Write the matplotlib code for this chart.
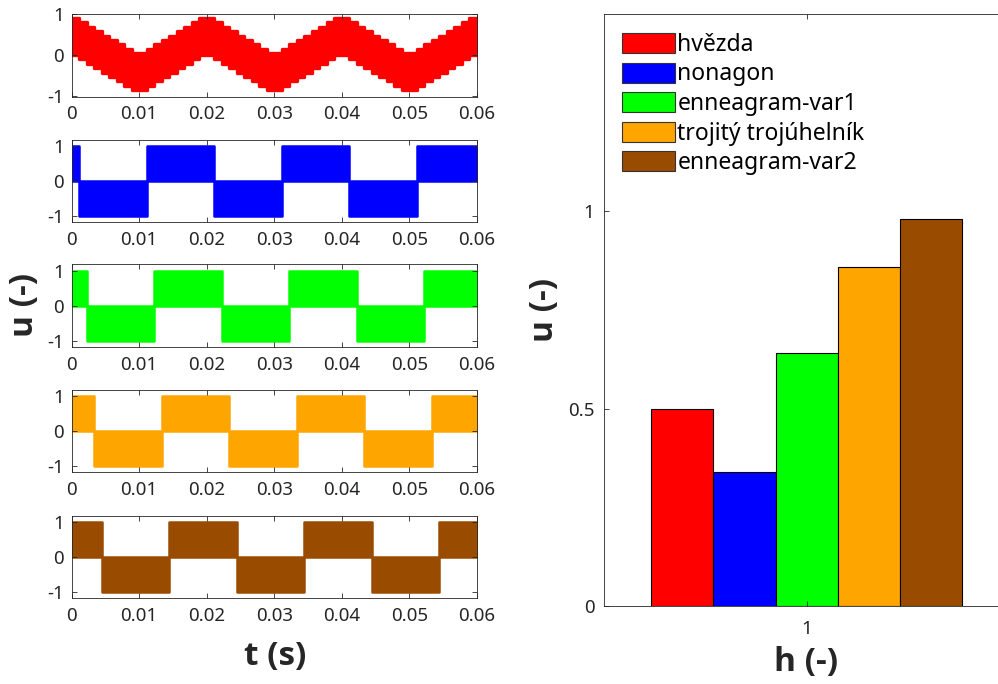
import numpy as np
import matplotlib
matplotlib.use('Agg')
import matplotlib.pyplot as plt
from matplotlib.patches import Patch

plt.rcParams['font.family'] = ['Noto Sans', 'DejaVu Sans']

# ---------------- data ----------------
names = ['hvězda', 'nonagon', 'enneagram-var1', 'trojitý trojúhelník', 'enneagram-var2']
colors = ['#FF0000', '#0000FF', '#00FF00', '#FFA500', '#994C00']

# right panel: amplitude of harmonic h = 1
h_labels = ['1']
h_values = [0.50, 0.34, 0.64, 0.86, 0.98]

# hvězda: PWM band (upper / lower envelope per switching interval of 1/900 s)
star_time = np.linspace(0.0, 0.06, 55)
star_upper = [0.92, 0.81, 0.70, 0.59, 0.48, 0.38, 0.27, 0.16, 0.05,
              0.05, 0.16, 0.27, 0.38, 0.48, 0.59, 0.70, 0.81, 0.92,
              0.92, 0.81, 0.70, 0.59, 0.48, 0.38, 0.27, 0.16, 0.05,
              0.05, 0.16, 0.27, 0.38, 0.48, 0.59, 0.70, 0.81, 0.92,
              0.92, 0.81, 0.70, 0.59, 0.48, 0.38, 0.27, 0.16, 0.05,
              0.05, 0.16, 0.27, 0.38, 0.48, 0.59, 0.70, 0.81, 0.92]
star_lower = [0.02, -0.09, -0.20, -0.31, -0.42, -0.52, -0.63, -0.74, -0.85,
              -0.85, -0.74, -0.63, -0.52, -0.42, -0.31, -0.20, -0.09, 0.02,
              0.02, -0.09, -0.20, -0.31, -0.42, -0.52, -0.63, -0.74, -0.85,
              -0.85, -0.74, -0.63, -0.52, -0.42, -0.31, -0.20, -0.09, 0.02,
              0.02, -0.09, -0.20, -0.31, -0.42, -0.52, -0.63, -0.74, -0.85,
              -0.85, -0.74, -0.63, -0.52, -0.42, -0.31, -0.20, -0.09, 0.02]

# square-like PWM waves: switching instants and band level (+1 / -1) per segment
nonagon_t = [0.0, 0.00111, 0.01111, 0.02111, 0.03111, 0.04111, 0.05111, 0.06]
nonagon_lv = [1, -1, 1, -1, 1, -1, 1]
var1_t = [0.0, 0.00222, 0.01222, 0.02222, 0.03222, 0.04222, 0.05222, 0.06]
var1_lv = [1, -1, 1, -1, 1, -1, 1]
troj_t = [0.0, 0.00333, 0.01333, 0.02333, 0.03333, 0.04333, 0.05333, 0.06]
troj_lv = [1, -1, 1, -1, 1, -1, 1]
var2_t = [0.0, 0.00444, 0.01444, 0.02444, 0.03444, 0.04444, 0.05444, 0.06]
var2_lv = [1, -1, 1, -1, 1, -1, 1]

t_ticks = [0, 0.01, 0.02, 0.03, 0.04, 0.05, 0.06]
t_ticklabels = ['0', '0.01', '0.02', '0.03', '0.04', '0.05', '0.06']
u_ticks = [-1, 0, 1]
bar_yticks = [0, 0.5, 1]
bar_yticklabels = ['0', '0.5', '1']

# ---------------- figure ----------------
W, H = 998, 684
fig = plt.figure(figsize=(W / 100, H / 100), dpi=100)

TXT = '#262626'
SPINE = '#262626'
LABEL_FONT = dict(family=['Open Sans', 'Noto Sans', 'DejaVu Sans'], weight='bold',
                  size=24, color=TXT)


def px_axes(left, top, width, height):
    return fig.add_axes([left / W, 1 - (top + height) / H, width / W, height / H])


def style(ax, fs=13.5, xpad=6.0, ypad=5.5):
    for s in ax.spines.values():
        s.set_color(SPINE)
        s.set_linewidth(0.6)
    ax.tick_params(direction='in', length=3.5, width=0.6, color=SPINE,
                   labelcolor=TXT, labelsize=fs, top=True, right=True)
    ax.tick_params(axis='x', pad=xpad)
    ax.tick_params(axis='y', pad=ypad)


panel_tops = [14, 139.5, 264.5, 389.5, 515.5]
panel_h = 82.7
panel_left = 71.7
panel_w = 405.0

axes_left = [px_axes(panel_left, tp, panel_w, panel_h) for tp in panel_tops]

# panel 1: hvězda band
ax = axes_left[0]
up = list(star_upper) + [star_upper[-1]]
lo = list(star_lower) + [star_lower[-1]]
ax.fill_between(star_time, lo, up, step='post', facecolor=colors[0],
                edgecolor=colors[0], linewidth=2.4, joinstyle='round')
ax.set_ylim(-1.01, 1.01)

waves = [(nonagon_t, nonagon_lv), (var1_t, var1_lv), (troj_t, troj_lv), (var2_t, var2_lv)]
for ax, (tt, lv), c in zip(axes_left[1:], waves, colors[1:]):
    for i in range(len(lv)):
        ax.fill_between([tt[i], tt[i + 1]], [0, 0], [lv[i], lv[i]],
                        facecolor=c, edgecolor=c, linewidth=1.8, joinstyle='round')
    ax.set_ylim(-1.17, 1.17)

for ax in axes_left:
    ax.set_xlim(0, 0.06)
    ax.set_xticks(t_ticks)
    ax.set_xticklabels(t_ticklabels)
    ax.set_yticks(u_ticks)
    ax.set_yticklabels([str(v) for v in u_ticks])
    style(ax)

fig.text(25 / W, 1 - 305 / H, 'u (-)', rotation=90, ha='center', va='center', **LABEL_FONT)
fig.text(275 / W, 1 - 657 / H, 't (s)', ha='center', va='center', **LABEL_FONT)

# right panel: grouped bar chart
axb = px_axes(604.2, 14, 405.0, 592.0)
n = len(h_values)
group_w = min(0.8, n / (n + 1.5))
bw = group_w / n
x0 = 1.0
for i, (v, c, nm) in enumerate(zip(h_values, colors, names)):
    xc = x0 - group_w / 2 + bw * (i + 0.5)
    axb.bar(xc, v, width=bw, color=c, edgecolor='black', linewidth=0.8, label=nm)
axb.set_xlim(0.5, 1.5)
axb.set_ylim(0, 1.5)
axb.set_xticks([1])
axb.set_xticklabels(h_labels)
axb.set_yticks(bar_yticks)
axb.set_yticklabels(bar_yticklabels)
style(axb, xpad=10, ypad=7)
axb.set_xlabel('h (-)', **LABEL_FONT)
axb.set_ylabel('u (-)', **LABEL_FONT)
axb.xaxis.set_label_coords((806 - 604.2) / 405.0, -(662 - 606) / 592.0)
axb.yaxis.set_label_coords(-(604.2 - 545) / 405.0, (606 - 310) / 592.0)
axb.xaxis.label.set_va('center')
axb.yaxis.label.set_va('center')

handles = [Patch(facecolor=c, edgecolor='#333333', linewidth=0.8) for c in colors]
leg = axb.legend(handles, names, loc='upper left',
                 bbox_to_anchor=(622 / W, 1 - 33 / H), bbox_transform=fig.transFigure,
                 frameon=False, fontsize=16.5, handlelength=2.3, handleheight=0.95,
                 handletextpad=0.12, labelspacing=0.24, borderaxespad=0, borderpad=0)
for t in leg.get_texts():
    t.set_color('black')

fig.savefig('out.png', dpi=100)
